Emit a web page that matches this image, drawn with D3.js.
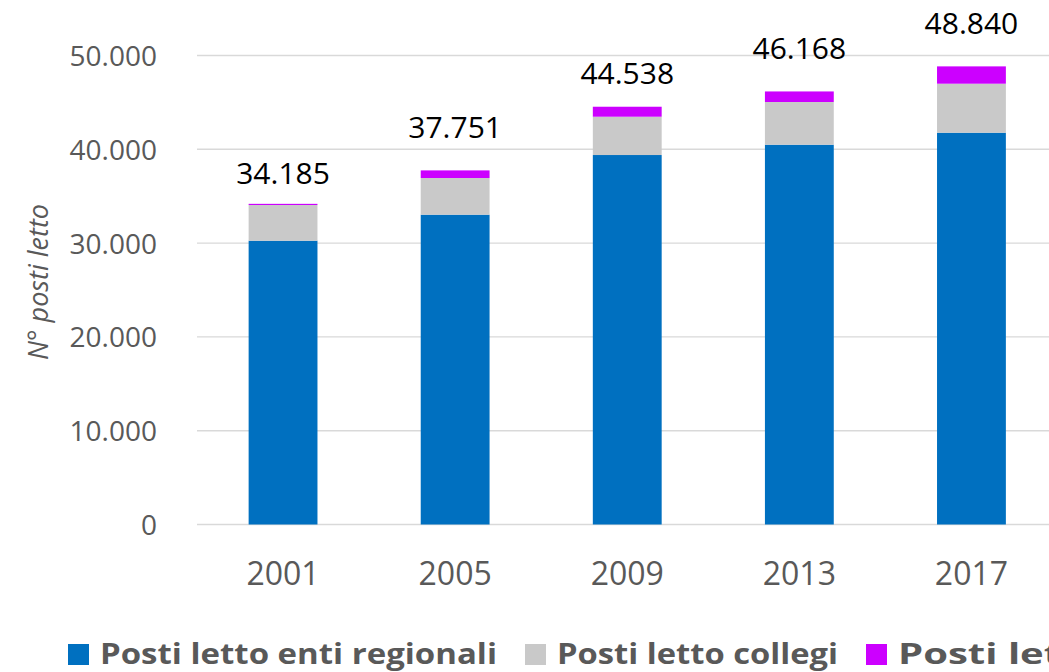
<!DOCTYPE html>
<html>
<head>
<meta charset="utf-8">
<script src="https://cdn.jsdelivr.net/npm/d3@7"></script>
<style>
  html, body { margin: 0; padding: 0; background: #fff; overflow: hidden; }
  text { font-family: "Open Sans", "Noto Sans", sans-serif; }
</style>
</head>
<body>
<svg id="chart" width="1049" height="672"></svg>
<script>
// data
const years = ["2001", "2005", "2009", "2013", "2017"];
const entiRegionali = [30256, 33030, 39390, 40490, 41770];
const collegi = [3806, 3910, 4085, 4553, 5224];
const altri = [123, 811, 1063, 1125, 1846];
const totals = [34185, 37751, 44538, 46168, 48840];
const seriesNames = ["Posti letto enti regionali", "Posti letto collegi", "Posti letto altri"];
const seriesColors = ["#0070C0", "#C9C9C9", "#CC00FF"];
const yTicks = [0, 10000, 20000, 30000, 40000, 50000];

// label nudges (px above the bar top), as placed in the original
const labelGap = [20, 32, 23, 32, 32];

// set svg, plot area
const svg = d3.select("#chart");
const plot = { left: 197, right: 1057.5, top: 55.5, bottom: 524.5 };

const x = d3.scaleBand()
  .domain(years)
  .range([plot.left, plot.right])
  .paddingInner(0.6)
  .paddingOuter(0.3);

const y = d3.scaleLinear()
  .domain([0, 50000])
  .range([plot.bottom, plot.top]);

const fmt = (v) => d3.format(",")(v).replace(/,/g, ".");

// gridlines
svg.append("g")
  .selectAll("line")
  .data(yTicks)
  .join("line")
  .attr("x1", plot.left)
  .attr("x2", plot.right)
  .attr("y1", (d) => y(d))
  .attr("y2", (d) => y(d))
  .attr("stroke", "#d9d9d9")
  .attr("stroke-width", 1.4);

// y axis labels
const yAxis = svg.append("g")
  .attr("transform", `translate(${plot.left - 40},0)`)
  .call(d3.axisLeft(y).tickValues(yTicks).tickSize(0).tickPadding(0).tickFormat(fmt));
yAxis.select(".domain").remove();
yAxis.selectAll("text")
  .attr("font-size", 28)
  .attr("fill", "#595959")
  .attr("dy", "0.36em");

// x axis labels
const xAxis = svg.append("g")
  .attr("transform", `translate(0,${plot.bottom})`)
  .call(d3.axisBottom(x).tickSize(0).tickPadding(0));
xAxis.select(".domain").remove();
xAxis.selectAll("text")
  .attr("font-size", 32)
  .attr("fill", "#595959")
  .attr("dy", 0)
  .attr("y", 60.5);

// stacked bars
const rows = years.map((yr, i) => ({
  year: yr,
  [seriesNames[0]]: entiRegionali[i],
  [seriesNames[1]]: collegi[i],
  [seriesNames[2]]: altri[i],
}));
const stacked = d3.stack().keys(seriesNames)(rows);

svg.append("g")
  .selectAll("g")
  .data(stacked)
  .join("g")
  .attr("fill", (d, i) => seriesColors[i])
  .selectAll("rect")
  .data((d) => d)
  .join("rect")
  .attr("x", (d) => x(d.data.year))
  .attr("width", x.bandwidth())
  .attr("y", (d) => y(d[1]))
  .attr("height", (d) => y(d[0]) - y(d[1]));

// total labels
svg.append("g")
  .selectAll("text")
  .data(years)
  .join("text")
  .attr("x", (d) => x(d) + x.bandwidth() / 2)
  .attr("y", (d, i) => y(totals[i]) - labelGap[i])
  .attr("text-anchor", "middle")
  .attr("font-size", 30)
  .attr("fill", "#000")
  .text((d, i) => fmt(totals[i]));

// y axis title
svg.append("text")
  .attr("transform", "translate(48,282) rotate(-90)")
  .attr("text-anchor", "middle")
  .attr("font-size", 27)
  .attr("font-style", "italic")
  .attr("fill", "#595959")
  .text("N° posti letto");

// legend
const legendWidths = [397, 281, 300];
let lx = 68;
seriesNames.forEach((name, i) => {
  const g = svg.append("g");
  g.append("rect")
    .attr("x", lx)
    .attr("y", 644)
    .attr("width", 21)
    .attr("height", 21)
    .attr("fill", seriesColors[i]);
  g.append("text")
    .attr("x", lx + 32)
    .attr("y", 664)
    .attr("font-size", 29)
    .attr("font-weight", 700)
    .attr("fill", "#595959")
    .attr("textLength", legendWidths[i])
    .attr("lengthAdjust", "spacingAndGlyphs")
    .text(name);
  lx += 32 + legendWidths[i] + 28;
});
</script>
</body>
</html>
